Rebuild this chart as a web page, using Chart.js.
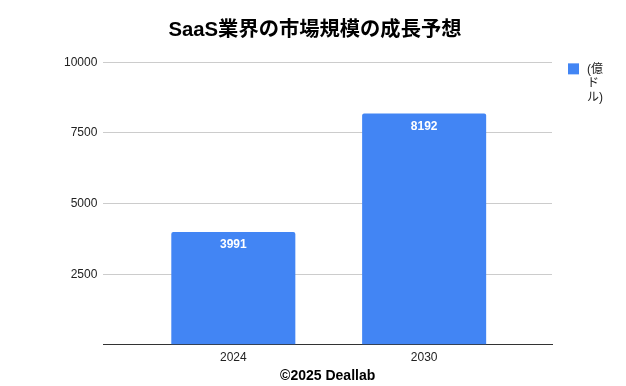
<!DOCTYPE html>
<html>
<head>
<meta charset="utf-8">
<script src="https://cdn.jsdelivr.net/npm/chart.js@4.4.1/dist/chart.umd.min.js"></script>
<style>
  html, body { margin: 0; padding: 0; background: #fff; }
  #wrap { width: 626px; height: 386px; }
</style>
</head>
<body>
<div id="wrap"><canvas id="barChart"></canvas></div>
<script>
const categories = ['2024', '2030'];
const marketSize = [3991, 8192];
const seriesLabel = ['(億', 'ド', 'ル)'];
const yTicks = [0, 2500, 5000, 7500, 10000];

const FONT = '"Liberation Sans", Arial, "Noto Sans CJK JP", sans-serif';
const BLUE = '#4285F4';

// value labels inside the top of each bar
const barLabels = {
  id: 'barLabels',
  afterDatasetsDraw(chart) {
    const ctx = chart.ctx;
    const meta = chart.getDatasetMeta(0);
    ctx.save();
    ctx.font = 'bold 12px ' + FONT;
    ctx.fillStyle = '#ffffff';
    ctx.textAlign = 'center';
    ctx.textBaseline = 'middle';
    meta.data.forEach((bar, i) => {
      ctx.fillText(String(marketSize[i]), bar.x, bar.y + 13);
    });
    ctx.restore();
  }
};

// legend to the right, label wraps over three lines
const sideLegend = {
  id: 'sideLegend',
  afterDraw(chart) {
    const ctx = chart.ctx;
    const area = chart.chartArea;
    const ds = chart.data.datasets[0];
    const x = area.right + 16;
    const y = area.top + 1;
    ctx.save();
    ctx.fillStyle = ds.backgroundColor;
    ctx.fillRect(x, y, 11, 11);
    ctx.font = '12px ' + FONT;
    ctx.fillStyle = '#222222';
    ctx.textBaseline = 'middle';
    ds.label.forEach((line, i) => {
      ctx.fillText(line, x + 19, y + 6 + i * 14.4);
    });
    ctx.restore();
  }
};

// title sits centred on the whole canvas, not the padded area
const centreTitle = {
  id: 'centreTitle',
  afterLayout(chart) {
    const t = chart.titleBlock;
    if (t) { t.left += 10; t.right += 10; }
  }
};

new Chart(document.getElementById('barChart'), {
  type: 'bar',
  data: {
    datasets: [{
      label: seriesLabel,
      data: marketSize.map((v, i) => ({ x: i, y: v })),
      backgroundColor: BLUE,
      borderRadius: { topLeft: 2, topRight: 2 },
      borderSkipped: 'bottom',
      categoryPercentage: 1,
      barPercentage: 0.65
    }]
  },
  options: {
    responsive: true,
    maintainAspectRatio: false,
    animation: false,
    layout: { padding: { left: 58, right: 74, top: 0, bottom: 0 } },
    plugins: {
      legend: { display: false },
      tooltip: { enabled: false },
      title: {
        display: true,
        text: 'SaaS業界の市場規模の成長予想',
        color: '#000000',
        font: { family: FONT, size: 20.3, weight: 'bold' },
        padding: { top: 18, bottom: 20 }
      }
    },
    scales: {
      x: {
        type: 'linear',
        offset: false,
        min: -0.681,
        max: 1.67,
        grid: { display: false, drawTicks: false },
        border: { display: true, color: '#333333', width: 1 },
        ticks: {
          stepSize: 1,
          includeBounds: false,
          padding: 6,
          color: '#222222',
          font: { family: FONT, size: 12 },
          callback: (v) => categories[v] !== undefined ? categories[v] : ''
        },
        title: {
          display: true,
          text: '©2025 Deallab',
          color: '#000000',
          font: { family: FONT, size: 14, weight: 'bold' },
          padding: { top: -3, bottom: 1 }
        }
      },
      y: {
        min: yTicks[0],
        max: yTicks[yTicks.length - 1],
        grid: { color: '#cccccc', drawTicks: false },
        border: { display: false },
        afterBuildTicks: (scale) => { scale.ticks = yTicks.map(v => ({ value: v })); },
        ticks: {
          padding: 6,
          color: '#222222',
          font: { family: FONT, size: 12 },
          callback: (v) => v === 0 ? '' : String(v)
        }
      }
    }
  },
  plugins: [barLabels, sideLegend, centreTitle]
});
</script>
</body>
</html>
